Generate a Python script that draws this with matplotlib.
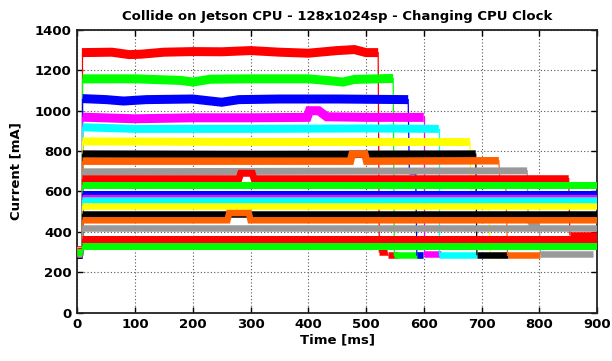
import matplotlib
matplotlib.use("Agg")
import matplotlib.pyplot as plt

title = "Collide on Jetson CPU - 128x1024sp - Changing CPU Clock"
x_label = "Time [ms]"
y_label = "Current [mA]"
x_ticks = [0, 100, 200, 300, 400, 500, 600, 700, 800, 900]
y_ticks = [0, 200, 400, 600, 800, 1000, 1200, 1400]

colors = ["#ff0000", "#00ff00", "#0000ff", "#ff00ff", "#00ffff", "#ffff00", "#000000", "#ff6000", "#999999",
          "#ff0000", "#00ff00", "#0000ff", "#ff00ff", "#00ffff", "#ffff00", "#000000", "#ff6000", "#999999",
          "#ff0000", "#00ff00"]

# idle current before each run starts (t = 0 .. 8 ms)
start_v = [300, 295, 290, 310, 305, 300, 285, 295, 300, 310, 305, 290, 300, 295, 310, 285, 300, 290, 305, 300]

# main level of each run (knots)
band_t = [
    [8, 60, 90, 110, 150, 200, 250, 300, 350, 400, 450, 480, 500, 521],
    [9, 100, 180, 200, 230, 300, 400, 440, 460, 480, 547],
    [9, 50, 80, 120, 200, 250, 280, 350, 450, 573],
    [9, 100, 200, 300, 398, 402, 418, 425, 432, 500, 600],
    [9, 100, 300, 500, 626],
    [9, 300, 680],
    [9, 300, 690],
    [9, 473, 476, 498, 501, 730],
    [9, 400, 779],
    [9, 280, 283, 303, 306, 851],
    [9, 900],
    [9, 900],
    [9, 900],
    [9, 900],
    [9, 900],
    [9, 900],
    [9, 260, 263, 297, 300, 900],
    [9, 900],
    [9, 900],
    [9, 900],
]
band_v = [
    [1288, 1290, 1278, 1280, 1290, 1293, 1292, 1298, 1290, 1285, 1298, 1303, 1288, 1288],
    [1158, 1158, 1150, 1142, 1156, 1158, 1158, 1148, 1142, 1155, 1160],
    [1060, 1055, 1048, 1055, 1058, 1042, 1055, 1058, 1058, 1055],
    [968, 960, 965, 965, 967, 1000, 1000, 985, 970, 967, 967],
    [918, 910, 910, 912, 910],
    [848, 845, 845],
    [785, 783, 785],
    [750, 750, 785, 785, 750, 752],
    [697, 700, 702],
    [663, 663, 690, 690, 663, 663],
    [630, 630],
    [589, 589],
    [574, 574],
    [556, 556],
    [527, 527],
    [490, 490],
    [457, 457, 493, 493, 457, 457],
    [421, 421],
    [366, 366],
    [328, 328],
]

# after a run ends: pieces of (t_start, t_end, current)
tail_pieces = [
    [(523, 536, 300), (538, 555, 283)],
    [(549, 598, 283)],
    [(575, 586, 700), (588, 598, 285)],
    [(600, 629, 290)],
    [(626, 692, 287)],
    [(682, 713, 555), (715, 740, 285)],
    [(692, 746, 287)],
    [(732, 742, 648), (745, 802, 284)],
    [(781, 800, 440), (802, 893, 292)],
    [(853, 900, 385)],
    [], [], [], [], [], [], [], [], [], [],
]

band_px = [9, 9, 9, 9, 8, 8, 7.5, 7.5, 7, 7, 7, 7, 5, 6.5, 6.5, 6.5, 6.5, 6.5, 7, 7]

fig = plt.figure(figsize=(6.12, 3.61), dpi=100)
ax = fig.add_axes([0.1263, 0.1343, 0.9755 - 0.1263, 0.9169 - 0.1343])

pt = 72.0 / 100.0
for i, c in enumerate(colors):
    lw = band_px[i] * pt
    t = band_t[i]
    v = band_v[i]
    # idle start
    ax.plot([0, t[0]], [start_v[i], start_v[i]], color=c, lw=lw, solid_capstyle="butt", zorder=3)
    ax.plot([t[0], t[0]], [start_v[i], v[0]], color=c, lw=0.9, zorder=3)
    # main run
    ax.plot(t, v, color=c, lw=lw, solid_capstyle="butt", solid_joinstyle="miter", zorder=3)
    # tail
    prev_t, prev_v = t[-1], v[-1]
    for (a, b, lv) in tail_pieces[i]:
        ax.plot([prev_t, a], [prev_v, lv], color=c, lw=0.9, zorder=3)
        ax.plot([a, b], [lv, lv], color=c, lw=6.5 * pt, solid_capstyle="butt", zorder=3)
        prev_t, prev_v = b, lv

ax.set_xlim(0, 900)
ax.set_ylim(0, 1400)
ax.set_xticks(x_ticks)
ax.set_yticks(y_ticks)
ax.set_xticklabels([str(x) for x in x_ticks], fontweight="bold", fontsize=9.5)
ax.set_yticklabels([str(y) for y in y_ticks], fontweight="bold", fontsize=9.5)
ax.tick_params(direction="in", length=4, width=1, top=True, right=True, pad=4, colors="#000000")
ax.grid(True, linestyle=(0, (1, 2)), color="#555555", lw=0.8, zorder=0)
ax.set_axisbelow(True)
for s in ax.spines.values():
    s.set_linewidth(1.3)
    s.set_color("#222222")

ax.set_title(title, fontweight="bold", fontsize=9.5, pad=7)
ax.set_xlabel(x_label, fontweight="bold", fontsize=9.5, labelpad=2)
ax.set_ylabel(y_label, fontweight="bold", fontsize=9.5, labelpad=9)

fig.savefig("out.png", dpi=100)
